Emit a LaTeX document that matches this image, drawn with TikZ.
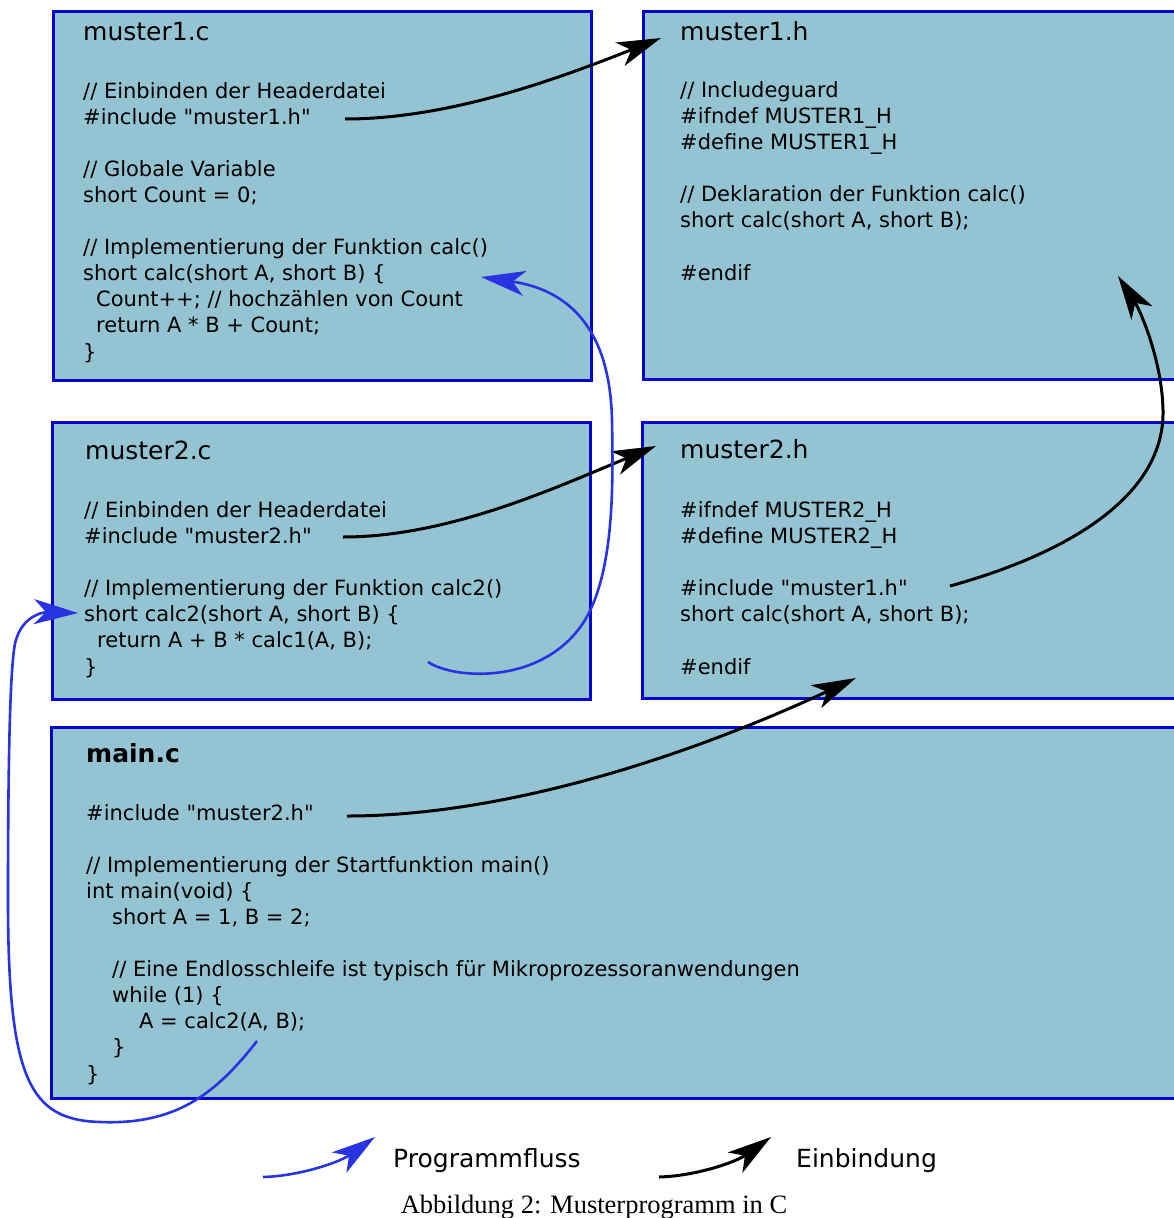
\documentclass[tikz,border=0pt]{standalone}
\usepackage{fontspec}
\setmainfont{DejaVu Sans}[Ligatures=TeXOff]
\newfontfamily\captionfont{Liberation Serif}
\usetikzlibrary{arrows.meta}

\newcommand{\blankline}{\\[26.1pt]}

\begin{document}
\begin{tikzpicture}[x=1pt, y=-1pt,
    filebox/.style={draw=boxline, fill=boxfill, line width=3pt},
    codetext/.style={anchor=base west, align=left, inner sep=0pt, font=\fontsize{21}{26.1}\selectfont},
    titletext/.style={anchor=base west, inner sep=0pt, font=\fontsize{25}{30}\selectfont},
    include/.style={-{Stealth[length=44pt, width=25pt, inset=12pt]}, line width=3pt, black},
    flow/.style={-{Stealth[length=44pt, width=25pt, inset=12pt]}, line width=2.6pt, flowblue}]

% Define colors
\definecolor{boxfill}{RGB}{148,196,210}
\definecolor{boxline}{RGB}{5,5,205}
\definecolor{flowblue}{RGB}{40,52,225}

\useasboundingbox (0,0) rectangle (1174,1218);

% File boxes
\draw[filebox] (53,11) rectangle (591,380);
\draw[filebox] (643,11) rectangle (1184,379);
\draw[filebox] (52,422) rectangle (590,699);
\draw[filebox] (642,422) rectangle (1184,698);
\draw[filebox] (51,727) rectangle (1184,1098);

% muster1.c (code nodes sit on the baseline of their last line)
\node[titletext] (m1c-title) at (83,40) {muster1.c};
\node[codetext] (m1c-code) at (83,359) {%
// Einbinden der Headerdatei\\
\#include "muster1.h"\blankline
// Globale Variable\\
short Count = 0;\blankline
// Implementierung der Funktion calc()\\
short calc(short A, short B) \{\\
\hspace*{13pt}Count++; // hochzählen von Count\\
\hspace*{13pt}return A * B + Count;\\
\}};

% muster1.h
\node[titletext] (m1h-title) at (680,40) {muster1.h};
\node[codetext] (m1h-code) at (680,280) {%
// Includeguard\\
\#ifndef MUSTER1\_H\\
\#define MUSTER1\_H\blankline
// Deklaration der Funktion calc()\\
short calc(short A, short B);\blankline
\#endif};

% muster2.c
\node[titletext] (m2c-title) at (85,459) {muster2.c};
\node[codetext] (m2c-code) at (84,674) {%
// Einbinden der Headerdatei\\
\#include "muster2.h"\blankline
// Implementierung der Funktion calc2()\\
short calc2(short A, short B) \{\\
\hspace*{13pt}return A + B * calc1(A, B);\\
\}};

% muster2.h
\node[titletext] (m2h-title) at (680,458) {muster2.h};
\node[codetext] (m2h-code) at (680,674) {%
\#ifndef MUSTER2\_H\\
\#define MUSTER2\_H\blankline
\#include "muster1.h"\\
short calc(short A, short B);\blankline
\#endif};

% main.c
\node[titletext, font=\fontsize{25}{30}\selectfont\bfseries] (main-title) at (86,762) {main.c};
\node[codetext] (main-code) at (86,1081) {%
\#include "muster2.h"\blankline
// Implementierung der Startfunktion main()\\
int main(void) \{\\
\hspace*{26pt}short A = 1, B = 2;\blankline
\hspace*{26pt}// Eine Endlosschleife ist typisch für Mikroprozessoranwendungen\\
\hspace*{26pt}while (1) \{\\
\hspace*{53pt}A = calc2(A, B);\\
\hspace*{26pt}\}\\
\}};

% Connector ends
\coordinate (inc1-from) at (345,119);
\coordinate (inc1-to) at (661,38);
\coordinate (inc2-from) at (343,537);
\coordinate (inc2-to) at (656,446);
\coordinate (inc3-from) at (347,816);
\coordinate (inc3-to) at (856,678);
\coordinate (inc4-from) at (950,586);
\coordinate (inc4-to) at (1118,276);
\coordinate (flow1-from) at (428,662);
\coordinate (flow1-to) at (481,277);
\coordinate (flow2-from) at (257,1041);
\coordinate (flow2-to) at (78,613);

% Einbindung
\draw[include] (inc1-from) .. controls (450,119) and (560,78) .. (inc1-to);
\draw[include] (inc2-from) .. controls (448,537) and (555,488) .. (inc2-to);
\draw[include] (inc3-from) .. controls (500,816) and (680,760) .. (inc3-to);
\draw[include] (inc4-from) .. controls (1080,550) and (1165,490) .. (1163,410)
    .. controls (1162,360) and (1140,310) .. (inc4-to);

% Programmfluss
\draw[flow] (flow1-from) .. controls (455,680) and (545,685) .. (585,620)
    .. controls (615,570) and (613,480) .. (612,420)
    .. controls (610,330) and (570,290) .. (flow1-to);
\draw[flow] (flow2-from) .. controls (215,1095) and (175,1125) .. (100,1122)
    .. controls (30,1120) and (8,1080) .. (8,900)
    .. controls (8,760) and (10,680) .. (14,650)
    .. controls (18,615) and (45,612) .. (flow2-to);

% Legend
\coordinate (leg-flow-from) at (263,1177);
\coordinate (leg-flow-to) at (375,1137);
\coordinate (leg-inc-from) at (659,1177);
\coordinate (leg-inc-to) at (771,1137);
\draw[flow] (leg-flow-from) .. controls (300,1176) and (340,1162) .. (leg-flow-to);
\node[titletext] (leg-flow) at (393,1167) {Programmfluss};
\draw[include] (leg-inc-from) .. controls (696,1176) and (736,1162) .. (leg-inc-to);
\node[titletext] (leg-inc) at (796,1167) {Einbindung};

% Caption
\node[anchor=base, inner sep=0pt, font=\captionfont\fontsize{26.5}{30}\selectfont] (caption) at (594,1213) {Abbildung 2: Musterprogramm in C};

\end{tikzpicture}
\end{document}
